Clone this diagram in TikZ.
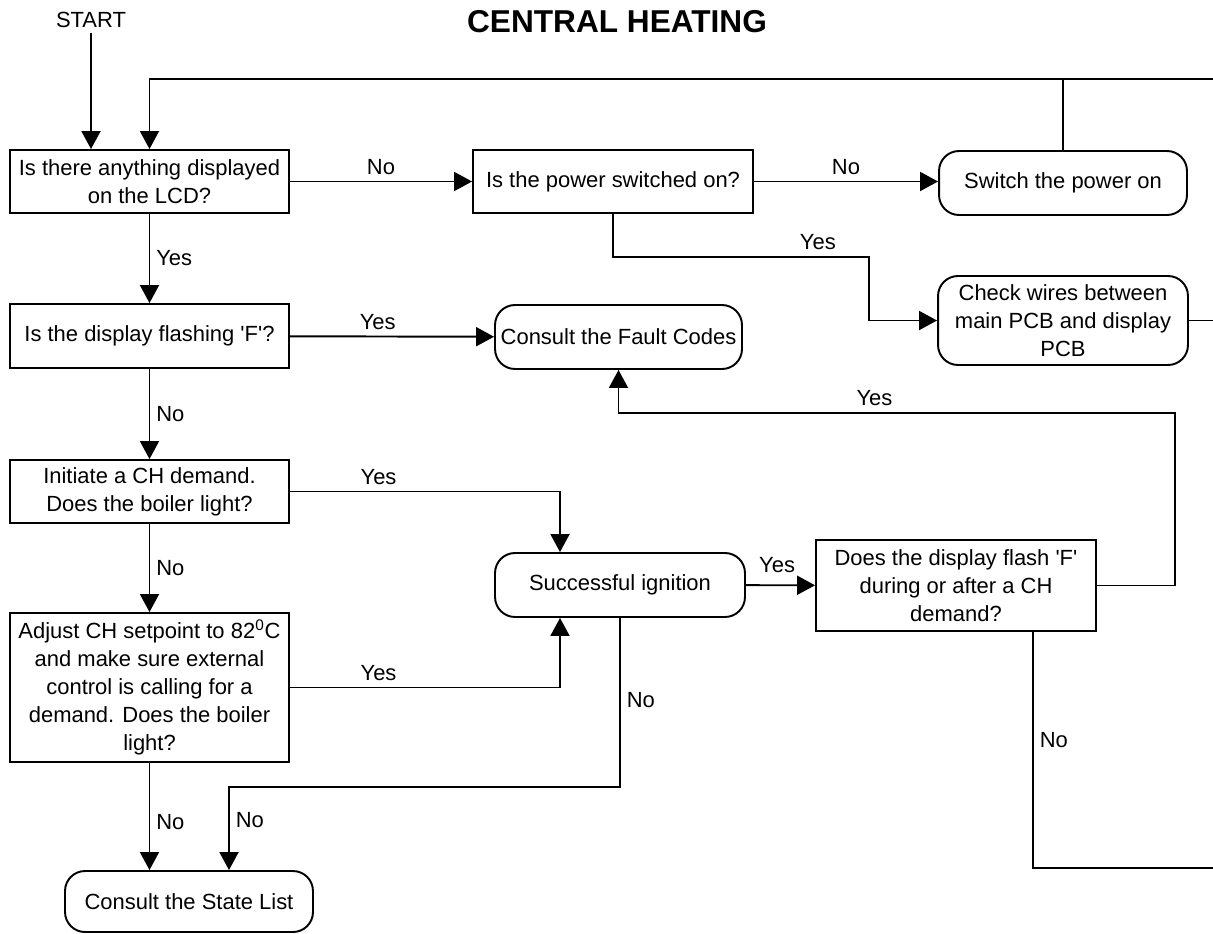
\documentclass[tikz,border=0pt]{standalone}
\usepackage{fontspec}
\newfontfamily\chfont{Liberation Sans}
\usetikzlibrary{arrows.meta}

\begin{document}
\begin{tikzpicture}[
  x=0.02cm, y=-0.02cm,
  every node/.style={font=\chfont\fontsize{12.5}{16}\selectfont},
  box/.style={rectangle, draw, line width=1.1pt, align=center, inner sep=2pt},
  term/.style={box, rounded corners=0.4cm},
  arr/.style={-{Triangle[length=3.6mm, width=3.8mm]}, line width=1.1pt},
  wire/.style={line width=1.1pt}
]
\useasboundingbox (0,0) rectangle (1213,933);

\node[font=\chfont\bfseries\fontsize{18}{20}\selectfont] (title) at (617,21.5) {CENTRAL HEATING};
\node (start) at (91,19.5) {START};

\node[box, minimum width=5.58cm, minimum height=1.26cm] (lcd) at (149.5,181.5) {Is there anything displayed\\on the LCD?};
\node[box, minimum width=5.6cm, minimum height=1.26cm] (power) at (613,181.5) {Is the power switched on?};
\node[term, minimum width=4.96cm, minimum height=1.28cm] (switch) at (1063,183) {Switch the power on};
\node[term, minimum width=5.0cm, minimum height=1.78cm] (wires) at (1063,320.5) {Check wires between\\main PCB and display\\PCB};
\node[box, minimum width=5.58cm, minimum height=1.28cm] (flashing) at (149.5,336) {Is the display flashing \textquotesingle F\textquotesingle?};
\node[term, minimum width=4.94cm, minimum height=1.28cm] (fault) at (618.5,337) {Consult the Fault Codes};
\node[box, minimum width=5.58cm, minimum height=1.26cm] (demand) at (149.5,491.5) {Initiate a CH demand.\\Does the boiler light?};
\node[term, minimum width=5.0cm, minimum height=1.28cm] (success) at (620,585) {Successful ignition};
\node[box, minimum width=5.6cm, minimum height=1.82cm] (doesf) at (956,585.5) {Does the display flash \textquotesingle F\textquotesingle\\during or after a CH\\demand?};
\node[box, minimum width=5.58cm, minimum height=2.98cm] (adjust) at (149.5,687.5) {Adjust CH setpoint to 82\textsuperscript{0}C\\and make sure external\\control is calling for a\\demand. Does the boiler\\light?};
\node[term, minimum width=4.96cm, minimum height=1.22cm] (state) at (189,901.5) {Consult the State List};

\coordinate (topout) at (1213,79);
\coordinate (wiresout) at (1213,320.5);
\coordinate (bottomout) at (1213,868);
\coordinate (pwbend) at (869,257);
\coordinate (yesbend) at (1175,413);
\coordinate (ignin) at (560,0);
\coordinate (nojoin) at (229,787);
\coordinate (nobend) at (1033,868);

\draw[arr] (start) -- (start |- lcd.north);
\draw[arr] (topout) -- (lcd.north |- topout) -- (lcd.north);
\draw[wire] (switch.north) -- (switch.north |- topout);

\draw[arr] (lcd) -- node[midway, above] {No} (power);
\draw[arr] (power.east) -- node[midway, above] {No} (power.east -| switch.west);
\draw[arr] (power.south) |- node[pos=0.9, above] {Yes} (pwbend) |- (wires.west);
\draw[wire] (wires.east) -- (wiresout);

\draw[arr] (lcd) -- node[midway, right] {Yes} (flashing);
\draw[arr] (flashing) -- node[pos=0.43, above] {Yes} (fault);
\draw[arr] (doesf.east) -| (yesbend) -| node[pos=0.27, above] {Yes} (fault.south);

\draw[arr] (flashing) -- node[midway, right] {No} (demand);
\draw[arr] (demand.east) -| node[pos=0.164, above] {Yes} (ignin |- success.north);
\draw[arr] (demand) -- node[midway, right] {No} (adjust);
\draw[arr] (adjust.east) -| node[pos=0.164, above] {Yes} (ignin |- success.south);
\draw[arr] (success) -- node[pos=0.45, above=3pt] {Yes} (doesf);

\draw[arr] (success.south) |- node[pos=0.244, right] {No} (nojoin) -- node[pos=0.4, right] {No} (nojoin |- state.north);
\draw[arr] (adjust) -- node[pos=0.55, right] {No} (adjust |- state.north);
\draw[wire] (doesf.south -| nobend) -- node[pos=0.46, right] {No} (nobend) -- (bottomout);
\end{tikzpicture}
\end{document}
